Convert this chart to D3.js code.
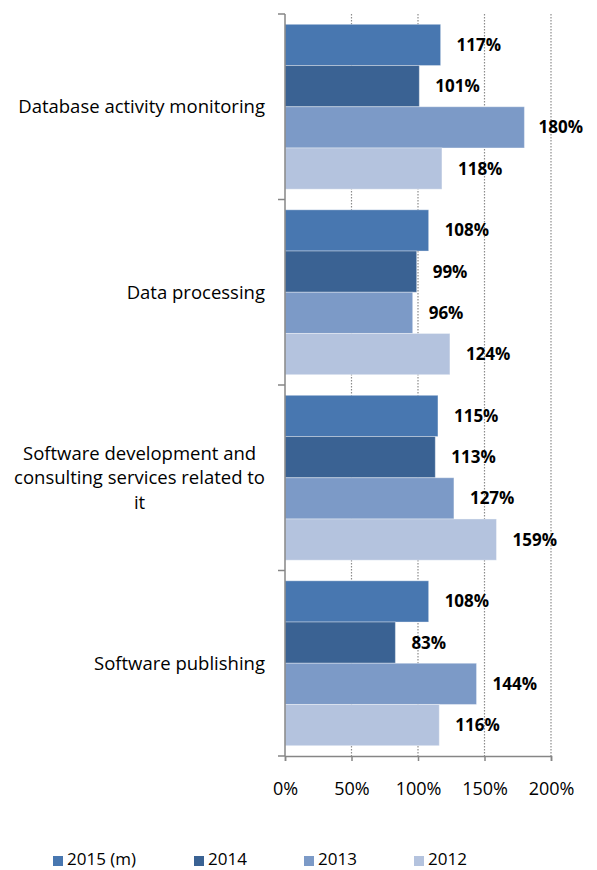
<!DOCTYPE html>
<html lang="en">
<head>
<meta charset="UTF-8">
<title>Growth by activity</title>
<script src="https://cdn.jsdelivr.net/npm/d3@7"></script>
<style>
  body { margin: 0; background: #fff; }
  svg { display: block; font-family: "Open Sans", "Noto Sans", sans-serif; }
</style>
</head>
<body>
<script>
const categories = ["Database activity monitoring", "Data processing",
  "Software development and consulting services related to it", "Software publishing"];
const seriesNames = ["2015 (m)", "2014", "2013", "2012"];
const values2015 = [117, 108, 115, 108];
const values2014 = [101, 99, 113, 83];
const values2013 = [180, 96, 127, 144];
const values2012 = [118, 124, 159, 116];
const xTicks = [0, 50, 100, 150, 200];
const colors = ["#4877b0", "#3a6293", "#7c9ac7", "#b4c3de"];

const seriesValues = [values2015, values2014, values2013, values2012];
const width = 597, height = 870;
const plotLeft = 285, plotRight = 551, plotTop = 14, plotBottom = 756;

const svg = d3.select("body").append("svg").attr("width", width).attr("height", height);

const x = d3.scaleLinear().domain([0, 200]).range([plotLeft, plotRight]);
const y = d3.scaleBand().domain(categories).range([plotTop, plotBottom]);
const yi = d3.scaleBand().domain(seriesNames).range([0, y.bandwidth()]).paddingOuter(0.25);

// dotted gridlines
svg.append("g").selectAll("line")
  .data(xTicks.slice(1))
  .join("line")
  .attr("x1", d => x(d)).attr("x2", d => x(d))
  .attr("y1", plotTop).attr("y2", plotBottom)
  .attr("stroke", "#8c8c8c").attr("stroke-width", 1.2)
  .attr("stroke-dasharray", "1.5,1.5");

// bars
const rows = categories.flatMap((c, i) => seriesNames.map((s, j) => ({cat: c, s, j, v: seriesValues[j][i]})));
const groups = svg.append("g").selectAll("g")
  .data(rows)
  .join("g");

groups.append("rect")
  .attr("x", x(0))
  .attr("y", d => y(d.cat) + yi(d.s))
  .attr("width", d => x(d.v) - x(0))
  .attr("height", yi.bandwidth())
  .attr("fill", d => colors[d.j])
  .attr("stroke", "rgba(255,255,255,0.35)")
  .attr("stroke-width", 1);

groups.append("text")
  .attr("x", d => x(d.v) + 16)
  .attr("y", d => y(d.cat) + yi(d.s) + yi.bandwidth() / 2)
  .attr("dy", "0.35em")
  .attr("font-size", 17).attr("font-weight", "bold").attr("fill", "#000")
  .text(d => d.v + "%")
  .each(function () {
    const w = this.getComputedTextLength();
    const xx = +this.getAttribute("x");
    if (xx + w > 583) this.setAttribute("x", 583 - w);
  });

// y axis line with boundary ticks
const yAxis = svg.append("g").attr("stroke", "#868686").attr("stroke-width", 1.5);
yAxis.append("line").attr("x1", plotLeft).attr("x2", plotLeft).attr("y1", plotTop).attr("y2", plotBottom);
yAxis.selectAll("line.t")
  .data(categories.map(c => y(c)).concat([plotBottom]))
  .join("line").attr("class", "t")
  .attr("x1", plotLeft - 7).attr("x2", plotLeft)
  .attr("y1", d => d).attr("y2", d => d);

// x axis
const xAxis = d3.axisBottom(x).tickValues(xTicks).tickFormat(d => d + "%").tickSize(5).tickPadding(21);
const gx = svg.append("g").attr("transform", `translate(0,${plotBottom})`).call(xAxis);
gx.select(".domain").attr("stroke", "#868686").attr("stroke-width", 1.5);
gx.selectAll(".tick line").attr("stroke", "#868686").attr("stroke-width", 1.5);
gx.selectAll(".tick text").attr("font-size", 18).attr("fill", "#000")
  .attr("font-family", "\"Open Sans\", sans-serif");

// category labels, wrapped; block right-aligned, lines centred within it
const labelRight = 265;
const catLabels = svg.append("g");
categories.forEach(c => {
  const t = catLabels.append("text")
    .attr("text-anchor", "middle").attr("font-size", 18.5).attr("fill", "#000");
  const words = c.split(" ");
  const lines = [];
  let line = [];
  let maxW = 0;
  words.forEach(w => {
    line.push(w);
    t.text(line.join(" "));
    if (t.node().getComputedTextLength() > 262 && line.length > 1) {
      line.pop();
      lines.push(line.join(" "));
      line = [w];
    }
  });
  lines.push(line.join(" "));
  lines.forEach(l => {
    t.text(l);
    maxW = Math.max(maxW, t.node().getComputedTextLength());
  });
  t.text(null);
  const lh = 24.5;
  const cx = labelRight - maxW / 2;
  const cy = y(c) + y.bandwidth() / 2 - (lines.length - 1) * lh / 2;
  lines.forEach((l, i) => {
    t.append("tspan").attr("x", cx).attr("y", cy + i * lh).attr("dy", "0.35em").text(l);
  });
});

// legend
const legendX = [53, 194, 304, 414];
const lg = svg.append("g").selectAll("g")
  .data(seriesNames)
  .join("g")
  .attr("transform", (d, i) => `translate(${legendX[i]},856)`);
lg.append("rect").attr("width", 10).attr("height", 10).attr("fill", (d, i) => colors[i]);
lg.append("text").attr("x", 14).attr("y", 3.5).attr("dy", "0.35em")
  .attr("font-size", 17).attr("fill", "#000").text(d => d);
</script>
</body>
</html>
